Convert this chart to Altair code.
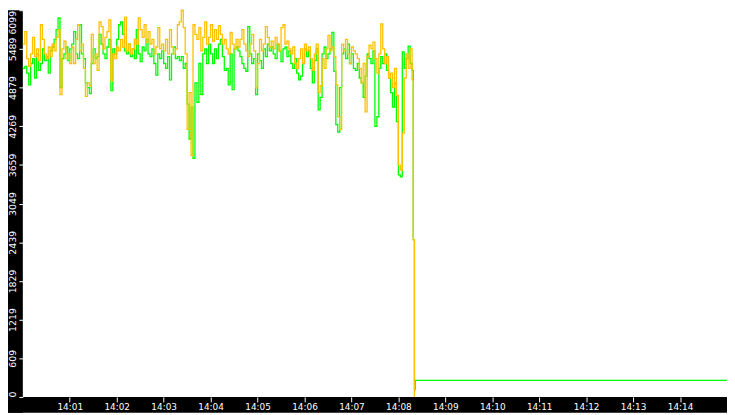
import pandas as pd
import altair as alt

# DONNÉES
# -------
# one sample every 2.5 s from 14:00:00
sample_step = 2.5

orange_vals = [
    5565, 5763, 5335, 5213, 5412, 5671, 5366, 5488, 5305, 5870,
    5641, 5412, 5335, 5519, 5366, 5565, 5458, 5671, 5794, 4770,
    5488, 5610, 5335, 5412, 5259, 5519, 5259, 5641, 5870, 5458,
    5565, 5183, 4740, 4954, 4908, 5717, 5259, 5412, 5152, 5916,
    5839, 5488, 5671, 5763, 5946, 4984, 5412, 5335, 5519, 5458,
    5641, 5519, 5992, 5458, 5565, 5412, 5488, 5641, 5565, 5977,
    5794, 5671, 5870, 5595, 5763, 5565, 5641, 5412, 5519, 5824,
    5488, 5565, 5458, 5641, 5412, 5794, 5519, 5412, 5488, 5870,
    5916, 6099, 5824, 5412, 4221, 4801, 3808, 5870, 5717, 5641,
    5824, 5458, 5671, 5916, 5565, 5671, 5870, 5610, 5794, 5641,
    5855, 5717, 5565, 5641, 5488, 5412, 5748, 5565, 5488, 5641,
    5519, 5641, 5794, 5565, 5458, 5366, 5565, 5717, 5458, 4877,
    5259, 5641, 5458, 5565, 5839, 5671, 5519, 5610, 5488, 5671,
    5565, 5458, 5824, 5870, 5565, 5610, 5488, 5412, 5519, 5259,
    5183, 5335, 5488, 5259, 5565, 5458, 5519, 5335, 5152, 5412,
    5565, 4801, 4908, 5335, 5183, 5488, 5702, 5458, 5519, 5366,
    4923, 4419, 4221, 5565, 5458, 5641, 5412, 5259, 5519, 5458,
    5412, 5335, 5183, 4954, 5259, 4496, 5366, 5549, 5488, 5595,
    5335, 5106, 5412, 5885, 5488, 5259, 5366, 5030, 5106, 4877,
    5183, 4755, 3656, 3579, 4160, 5030, 5412, 5183, 5488, 5000,
]

green_vals = [
    5183, 5213, 5106, 4923, 5259, 5335, 5030, 5412, 5152, 5259,
    5488, 5305, 5366, 5106, 5458, 5519, 5641, 5794, 5977, 4877,
    5335, 5412, 5519, 5305, 5488, 5565, 5763, 5412, 5335, 5870,
    5412, 5335, 4954, 4877, 4786, 5259, 5488, 5335, 5366, 5717,
    5565, 5412, 5335, 5519, 5641, 4832, 5488, 5412, 5641, 5870,
    5916, 5717, 5458, 5412, 5565, 5366, 5488, 5335, 5794, 5412,
    5290, 5519, 5458, 5641, 5412, 5366, 5488, 5259, 5076, 5412,
    5335, 5458, 5259, 5183, 5366, 5000, 5412, 5519, 5335, 5366,
    5305, 5366, 5183, 5259, 4618, 4068, 4572, 3763, 4954, 4648,
    5259, 4770, 5412, 5488, 5259, 5565, 5412, 5259, 5488, 5335,
    5565, 5641, 5366, 5152, 5183, 4923, 5412, 4847, 5488, 5519,
    5458, 5366, 5259, 5183, 5137, 5839, 5412, 5259, 5335, 4770,
    5412, 5305, 5183, 5488, 5366, 5565, 5458, 5519, 5412, 5335,
    5565, 5458, 5290, 5488, 5519, 5366, 5458, 5259, 5183, 5335,
    5106, 5000, 5061, 5259, 5488, 5366, 5458, 5183, 4954, 5305,
    5488, 4526, 4725, 5412, 5519, 5335, 5412, 5488, 5748, 5137,
    4297, 4175, 4877, 5412, 5488, 5335, 5565, 5259, 5412, 5183,
    5152, 5259, 5030, 4954, 4725, 5061, 5412, 5335, 5259, 5458,
    4267, 4419, 5183, 5366, 5259, 5412, 5152, 5030, 4801, 4572,
    4954, 4343, 3503, 3473, 5442, 5183, 5335, 5534, 5259, 5152,
]

# the drop at ~14:08:20 and the flat tail afterwards
orange_tail_secs = [499, 500.5]
orange_tail_vals = [2480, 0]
green_tail_secs = [499, 500.5, 501.5, 900]
green_tail_vals = [2480, 116, 260, 260]

y_ticks = [0, 609.9, 1219.8, 1829.7, 2439.6, 3049.5, 3659.4, 4269.3, 4879.2, 5489.1, 6099]
x_tick_minutes = list(range(1, 15))

PLOT_W, PLOT_H = 712, 391
LEFT_BAND, BOTTOM_BAND = 15, 16

# PRÉPARATION
# -----------
t0 = pd.Timestamp("2024-01-01 14:00:00")


def make_frame(vals, tail_secs, tail_vals):
    secs = [sample_step * i for i in range(len(vals))] + tail_secs
    return pd.DataFrame({
        "time": [t0 + pd.Timedelta(seconds=s) for s in secs],
        "value": vals + tail_vals,
    })


df_orange = make_frame(orange_vals, orange_tail_secs, orange_tail_vals)
df_green = make_frame(green_vals, green_tail_secs, green_tail_vals)


def dt(minute):
    return alt.DateTime(year=2024, month=1, date=1, hours=14, minutes=minute)


x_enc = alt.X(
    "time:T",
    scale=alt.Scale(domain=[dt(0), dt(15)], nice=False),
    axis=alt.Axis(
        values=[dt(m) for m in x_tick_minutes],
        format="%H:%M",
        title=None,
        grid=False,
        domain=False,
        zindex=1,
        tickColor="white",
        tickSize=5,
        labelColor="white",
        labelFont="DejaVu Sans",
        labelFontSize=9,
        labelPadding=1,
    ),
)

y_enc = alt.Y(
    "value:Q",
    scale=alt.Scale(domain=[0, 6099], nice=False, zero=True),
    axis=alt.Axis(
        values=y_ticks,
        labelExpr="'' + floor(datum.value)",
        title=None,
        grid=False,
        domain=False,
        zindex=1,
        tickColor="white",
        tickSize=4,
        labelColor="white",
        labelFont="DejaVu Sans",
        labelFontSize=9.5,
        labelAngle=270,
        labelAlign={
            "condition": [
                {"test": "datum.value <= 0", "value": "left"},
                {"test": "datum.value >= 6099", "value": "right"},
            ],
            "value": "center",
        },
        labelBaseline="bottom",
        labelPadding=1,
    ),
)

# CONSTRUCTION
# ------------
# black bands behind the axes (left and bottom)
bands = pd.DataFrame({"band": ["left", "bottom"]})
left_band = alt.Chart(bands).transform_filter("datum.band == 'left'").mark_rect(
    color="black"
).encode(
    x=alt.value(-LEFT_BAND), x2=alt.value(0),
    y=alt.value(0), y2=alt.value(PLOT_H + BOTTOM_BAND),
)
bottom_band = alt.Chart(bands).transform_filter("datum.band == 'bottom'").mark_rect(
    color="black"
).encode(
    x=alt.value(-LEFT_BAND), x2=alt.value(PLOT_W),
    y=alt.value(PLOT_H), y2=alt.value(PLOT_H + BOTTOM_BAND),
)

green_line = alt.Chart(df_green).mark_line(
    color="#00ff00", strokeWidth=1.3, interpolate="step-after"
).encode(x=x_enc, y=y_enc)

orange_line = alt.Chart(df_orange).mark_line(
    color="#ffc000", strokeWidth=1.3, interpolate="step-after"
).encode(x=x_enc, y=y_enc)

chart = alt.layer(left_band, bottom_band, green_line, orange_line).properties(
    width=PLOT_W,
    height=PLOT_H,
    background="white",
    padding={"left": LEFT_BAND, "top": 0, "right": 0, "bottom": BOTTOM_BAND},
    autosize="none",
).configure_view(fill="white", strokeWidth=0)

chart.save("out.html", embed_options={"renderer": "svg", "actions": False})
